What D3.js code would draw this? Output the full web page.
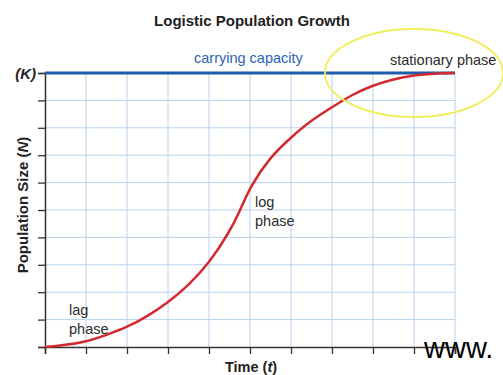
<!DOCTYPE html>
<html>
<head>
<meta charset="utf-8">
<script src="https://cdn.jsdelivr.net/npm/d3@7"></script>
<style>
  html, body { margin: 0; padding: 0; background: #fff; }
  svg { display: block; }
  text { font-family: "Liberation Sans", Arial, sans-serif; }
</style>
</head>
<body>
<svg id="chart" width="503" height="375"></svg>
<script>
// Logistic growth curve: population N over time t, levelling off at K
const timeSteps  = [0, 0.5, 1, 1.5, 2, 2.5, 3, 3.5, 4, 4.5, 4.75, 5, 5.5, 6, 6.5, 7, 7.5, 8, 8.5, 9, 9.5, 10];
const population = [0, 0.07, 0.19, 0.44, 0.72, 1.12, 1.62, 2.25, 3.05, 4.2, 4.95, 5.85, 6.95, 7.65, 8.28, 8.75, 9.22, 9.55, 9.78, 9.92, 9.98, 10];
const carryingCapacity = 10;
const xTicks = [0, 1, 2, 3, 4, 5, 6, 7, 8, 9, 10];
const yTicks = [0, 1, 2, 3, 4, 5, 6, 7, 8, 9, 10];
const yTickLabels = ["", "", "", "", "", "", "", "", "", "", "(K)"];

const svg = d3.select("#chart");
const plot = { left: 45, right: 455, top: 73, bottom: 347 };

const x = d3.scaleLinear().domain([0, 10]).range([plot.left, plot.right]);
const y = d3.scaleLinear().domain([0, 10]).range([plot.bottom, plot.top]);

// Light blue grid
const grid = svg.append("g").attr("stroke", "#b9d0ef").attr("stroke-width", 1);
grid.selectAll("line.v").data(xTicks.slice(1)).enter().append("line")
  .attr("x1", d => x(d)).attr("x2", d => x(d))
  .attr("y1", y(0)).attr("y2", y(10));
grid.selectAll("line.h").data(yTicks.slice(1, -1)).enter().append("line")
  .attr("x1", x(0)).attr("x2", x(10))
  .attr("y1", d => y(d)).attr("y2", d => y(d));

// Axes
const yAxis = d3.axisLeft(y).tickValues(yTicks).tickSize(7).tickPadding(2)
  .tickFormat((d, i) => yTickLabels[i]);
const gy = svg.append("g").attr("transform", `translate(${plot.left},0)`).call(yAxis);
gy.select(".domain").attr("stroke", "#333").attr("stroke-width", 1.5);
gy.selectAll(".tick line").attr("stroke", "#333").attr("stroke-width", 1.3);
gy.selectAll(".tick text")
  .attr("font-size", 15).attr("font-weight", "bold").attr("font-style", "italic")
  .attr("fill", "#222").attr("dy", "0.35em");

const xAxis = d3.axisBottom(x).tickValues(xTicks).tickSize(7).tickFormat("");
const gx = svg.append("g").attr("transform", `translate(0,${plot.bottom})`).call(xAxis);
gx.select(".domain").attr("stroke", "#333").attr("stroke-width", 1.5);
gx.selectAll(".tick line").attr("stroke", "#333").attr("stroke-width", 1.3);

// Carrying capacity line
svg.append("line")
  .attr("x1", x(0)).attr("x2", x(10))
  .attr("y1", y(carryingCapacity)).attr("y2", y(carryingCapacity))
  .attr("stroke", "#1d5cac").attr("stroke-width", 3);

// Population curve
const line = d3.line()
  .x((d, i) => x(timeSteps[i]))
  .y(d => y(d))
  .curve(d3.curveBasis);
svg.append("path")
  .datum(population)
  .attr("d", line)
  .attr("fill", "none")
  .attr("stroke", "#d22a2e")
  .attr("stroke-width", 2.5);

// Highlight around the stationary phase
svg.append("ellipse")
  .attr("cx", 414).attr("cy", 73).attr("rx", 89).attr("ry", 44)
  .attr("fill", "none").attr("stroke", "#f1ee58").attr("stroke-width", 1.8);

// Titles and annotations
svg.append("text").attr("x", 252).attr("y", 25.5).attr("text-anchor", "middle")
  .attr("font-size", 15).attr("font-weight", "bold").attr("fill", "#222")
  .text("Logistic Population Growth");

svg.append("text").attr("x", 194).attr("y", 63)
  .attr("font-size", 14.5).attr("fill", "#2a63b2")
  .text("carrying capacity");

svg.append("text").attr("x", 390).attr("y", 65)
  .attr("font-size", 14.5).attr("fill", "#2b2b2b")
  .text("stationary phase");

const note = (tx, ty, lines) => {
  const t = svg.append("text").attr("x", tx).attr("y", ty)
    .attr("font-size", 14.5).attr("fill", "#2b2b2b");
  lines.forEach((s, i) => t.append("tspan").attr("x", tx).attr("dy", i ? 18.5 : 0).text(s));
};
note(69, 315, ["lag", "phase"]);
note(255, 207, ["log", "phase"]);

svg.append("text").attr("x", 251).attr("y", 372).attr("text-anchor", "middle")
  .attr("font-size", 14.5).attr("font-weight", "bold").attr("fill", "#222")
  .call(t => {
    t.append("tspan").text("Time (");
    t.append("tspan").attr("font-style", "italic").text("t");
    t.append("tspan").text(")");
  });

svg.append("text")
  .attr("transform", "translate(28,205) rotate(-90)")
  .attr("text-anchor", "middle")
  .attr("font-size", 15).attr("font-weight", "bold").attr("fill", "#222")
  .call(t => {
    t.append("tspan").text("Population Size (");
    t.append("tspan").attr("font-style", "italic").text("N");
    t.append("tspan").text(")");
  });

svg.append("text").attr("x", 424).attr("y", 358)
  .attr("font-size", 29).attr("fill", "#000")
  .text("www.");
</script>
</body>
</html>
